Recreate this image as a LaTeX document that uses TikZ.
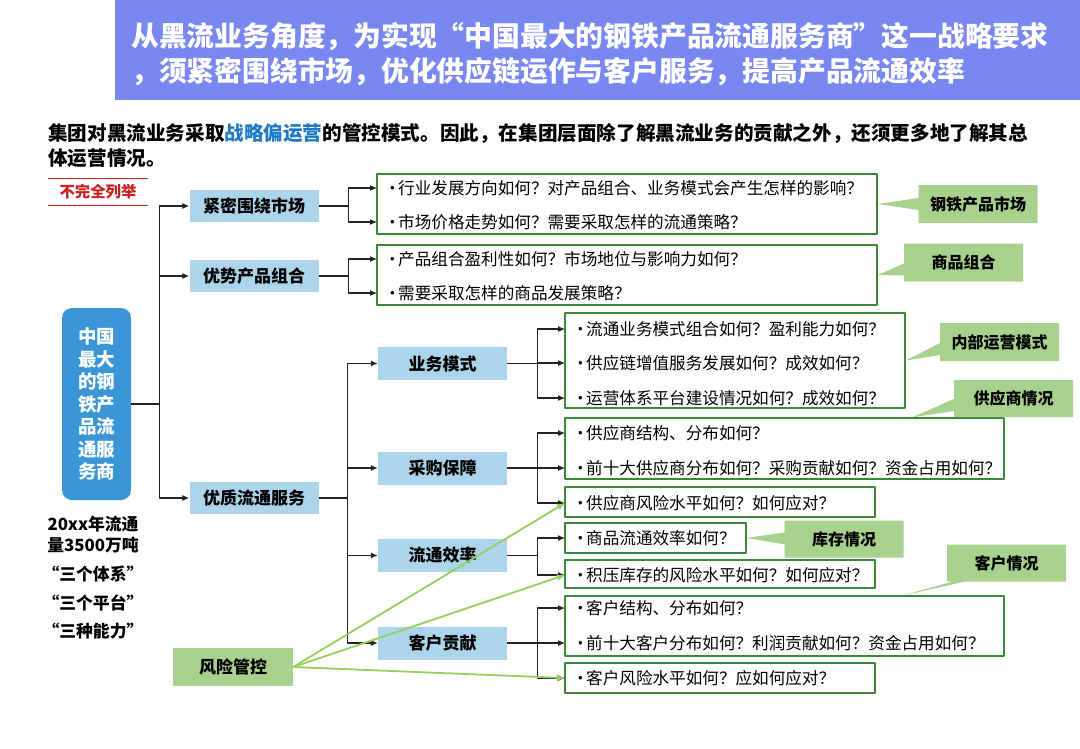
\documentclass[tikz,border=0pt]{standalone}
\usepackage{fontspec}
\setmainfont{Noto Sans CJK SC}
\usetikzlibrary{arrows.meta,positioning,calc,fit,shapes.callouts}
\definecolor{bannerblue}{RGB}{121,135,240}
\definecolor{rootblue}{RGB}{58,150,214}
\definecolor{nodeblue}{RGB}{172,212,234}
\definecolor{tipgreen}{RGB}{169,209,142}
\definecolor{boxgreen}{RGB}{58,136,58}
\definecolor{riskgreen}{RGB}{150,208,96}
\definecolor{notered}{RGB}{200,32,32}
\definecolor{keyblue}{RGB}{30,122,196}
\definecolor{linkgray}{RGB}{35,35,35}
\newcommand\askframe[3]
{
\node[askframe, fit={(#2) (#3)}] (#1) {};
}
\newcommand\askrow[3]
{
\node[askrow] (#1) at (#2) {\makebox[14pt][l]{•}#3};
}

\begin{document}
\begin{tikzpicture}[x=1pt, y=-1pt, line join=round,
  every node/.style={inner sep=0pt},
  lvl/.style={fill=nodeblue, minimum width=129pt, minimum height=33pt, font=\fontsize{17}{20}\selectfont\bfseries},
  tip/.style={rectangle callout, fill=tipgreen, minimum width=119pt, minimum height=38pt, callout pointer width=12pt, font=\fontsize{16}{19}\selectfont\bfseries},
  askframe/.style={draw=boxgreen, line width=1.4pt, inner sep=0pt},
  askrow/.style={anchor=west, inner xsep=7pt, font=\fontsize{16.6}{20}\selectfont},
  link/.style={draw=linkgray, line width=1.1pt},
  arr/.style={link, -{Latex[length=7pt,width=6pt]}},
  riskarr/.style={draw=riskgreen, line width=1.8pt, -{Latex[length=8pt,width=7pt]}}]
\useasboundingbox (0,0) rectangle (1080,748);
\fill[white] (0,0) rectangle (1080,748);
% banner
\fill[bannerblue] (115,0) rectangle (1080,100);
\node[anchor=west, align=left, text=white, font=\fontsize{27.8}{35}\selectfont\bfseries] (title) at (131,54.5)
  {从黑流业务角度，为实现“中国最大的钢铁产品流通服务商”这一战略要求\\，须紧密围绕市场，优化供应链运作与客户服务，提高产品流通效率};
\node[anchor=north west, align=left, font=\fontsize{19.6}{25}\selectfont\bfseries] (lead) at (48,123.5)
  {集团对黑流业务采取\textcolor{keyblue}{战略偏运营}的管控模式。因此，在集团层面除了解黑流业务的贡献之外，还须更多地了解其总\\体运营情况。};
\node[minimum width=100pt, minimum height=27pt, text=notered, font=\fontsize{15.4}{18}\selectfont\bfseries] (note) at (98,192) {不完全列举};
\draw[notered, line width=1.2pt] (note.north west) -- (note.north east);
\draw[notered, line width=1.2pt] (note.south west) -- (note.south east);

% root
\node[fill=rootblue, rounded corners=10pt, minimum width=69pt, minimum height=192pt, align=center, text=white,
  font=\fontsize{18.5}{22.5}\selectfont\bfseries] (root) at (96.5,404) {中国\\最大\\的钢\\铁产\\品流\\通服\\务商};
\node[align=center, font=\fontsize{16.8}{21}\selectfont\bfseries] (volume) at (93,534.5) {20xx年流通\\量3500万吨};
\node[align=center, font=\fontsize{16.8}{28.5}\selectfont\bfseries] (motto) at (93,603) {“三个体系”\\“三个平台”\\“三种能力”};

% level 1
\node[lvl, minimum height=32pt] (mkt)  at (254,206) {紧密围绕市场};
\node[lvl, minimum height=32pt] (prod) at (254,276) {优势产品组合};
\node[lvl, minimum height=32pt] (svc)  at (254,498) {优质流通服务};
% level 2
\node[lvl] (biz)  at (442.5,363.5) {业务模式};
\node[lvl] (buy)  at (442.5,468)   {采购保障};
\node[lvl] (flow) at (442.5,555.5) {流通效率};
\node[lvl] (cust) at (442.5,643)   {客户贡献};
\node[lvl, fill=tipgreen, minimum width=120pt, minimum height=38pt] (risk) at (233,667) {风险管控};

% question boxes
\askframe{b1}{377,174}{877,234}
\askframe{b2}{377,245}{877,305}
\askframe{b3}{565,313}{905,408}
\askframe{b4}{565,418}{1004,479}
\askframe{b5}{565,487}{875,517}
\askframe{b6}{565,523}{746,553}
\askframe{b7}{565,560}{875,588}
\askframe{b8}{565,596}{1004,656}
\askframe{b9}{565,663}{875,693}
\askrow{q11}{377,188}{行业发展方向如何？对产品组合、业务模式会产生怎样的影响？}
\askrow{q12}{377,222}{市场价格走势如何？需要采取怎样的流通策略？}
\askrow{q21}{377,259}{产品组合盈利性如何？市场地位与影响力如何？}
\askrow{q22}{377,293}{需要采取怎样的商品发展策略？}
\askrow{q31}{565,329}{流通业务模式组合如何？盈利能力如何？}
\askrow{q32}{565,363}{供应链增值服务发展如何？成效如何？}
\askrow{q33}{565,398}{运营体系平台建设情况如何？成效如何？}
\askrow{q41}{565,433}{供应商结构、分布如何？}
\askrow{q42}{565,468}{前十大供应商分布如何？采购贡献如何？资金占用如何？}
\askrow{q51}{565,503}{供应商风险水平如何？如何应对？}
\askrow{q61}{565,538}{商品流通效率如何？}
\askrow{q71}{565,575}{积压库存的风险水平如何？如何应对？}
\askrow{q81}{565,608}{客户结构、分布如何？}
\askrow{q82}{565,643}{前十大客户分布如何？利润贡献如何？资金占用如何？}
\askrow{q91}{565,678}{客户风险水平如何？应如何应对？}

% callouts
\node[tip, callout absolute pointer={(b1.east)}] (tmkt) at (978,204) {钢铁产品市场};
\node[tip, callout absolute pointer={(b2.east)}] (tprod) at (963.5,262.5) {商品组合};
\node[tip, callout absolute pointer={(b3.east)}] (tbiz) at (999.5,342) {内部运营模式};
\node[tip, minimum height=37pt, callout absolute pointer={($(b4.north west)!0.79!(b4.north east)$)}] (tbuy) at (1013.5,398.5) {供应商情况};
\node[tip, minimum height=37pt, callout absolute pointer={(b6.east)}] (tflow) at (844,539) {库存情况};
\node[tip, minimum height=37pt, callout absolute pointer={($(b8.north west)!0.77!(b8.north east)$)}] (tcust) at (1006.5,563) {客户情况};

% tree
\draw[link] (root.east) -- ++(28,0) coordinate (rfork);
\foreach \n in {mkt,prod,svc} \draw[arr] (rfork) |- (\n.west);
\draw[link] (mkt.east) -- ++(29.5,0) coordinate (mfork);
\foreach \n in {q11,q12} \draw[arr] (mfork) |- (\n.west);
\draw[link] (prod.east) -- ++(29.5,0) coordinate (pfork);
\foreach \n in {q21,q22} \draw[arr] (pfork) |- (\n.west);
\draw[link] (svc.east) -- ++(29,0) coordinate (sfork);
\foreach \n in {biz,buy,flow,cust} \draw[arr] (sfork) |- (\n.west);
\draw[link] (biz.east) -- ++(30,0) coordinate (bfork);
\foreach \n in {q31,q32,q33} \draw[arr] (bfork) |- (\n.west);
\draw[link] (buy.east) -- ++(30,0) coordinate (cfork);
\foreach \n in {q41,q42,q51} \draw[arr] (cfork) |- (\n.west);
\draw[link] (flow.east) -- ++(30,0) coordinate (ffork);
\foreach \n in {q61,q71} \draw[arr] (ffork) |- (\n.west);
\draw[link] (cust.east) -- ++(30,0) coordinate (ufork);
\foreach \n in {q81,q82,q91} \draw[arr] (ufork) |- (\n.west);
% risk
\foreach \n in {q51,q71,q91} \draw[riskarr] (risk.east) -- (\n.west);
\end{tikzpicture}
\end{document}
